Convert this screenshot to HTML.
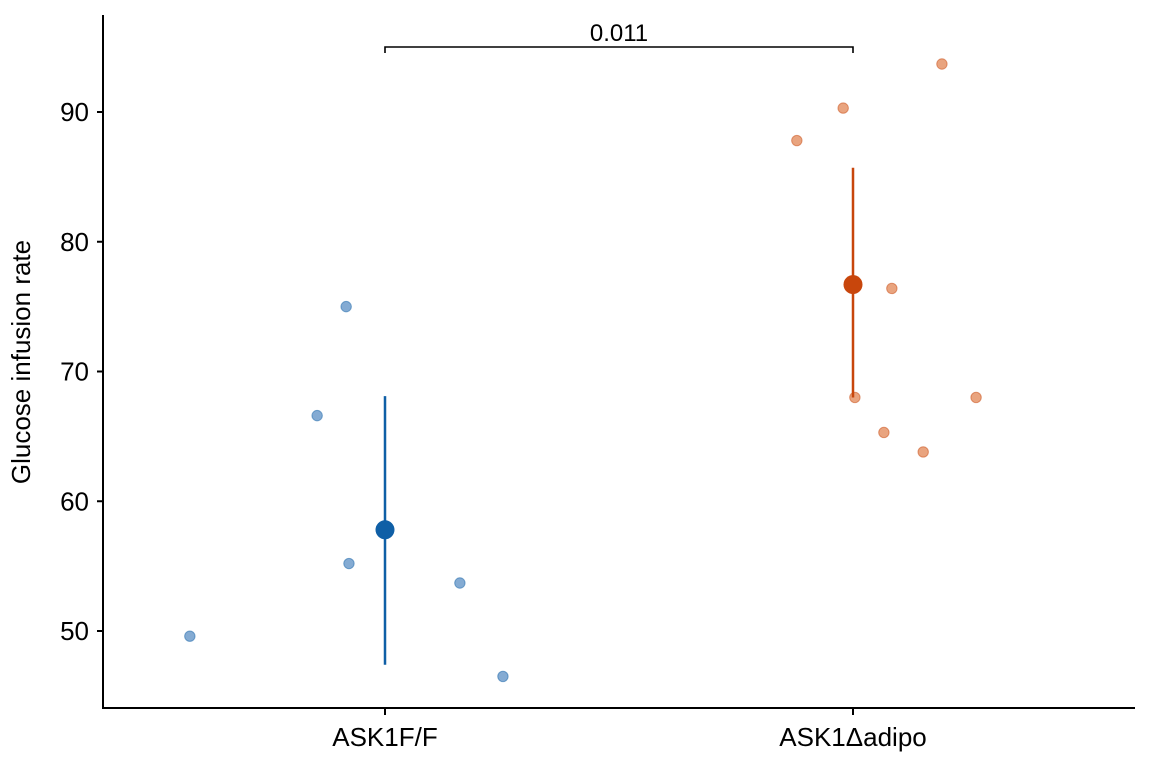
<!DOCTYPE html>
<html><head><meta charset="utf-8"><style>
body{margin:0;background:#fff;}
svg{display:block;font-family:"Liberation Sans","DejaVu Sans",sans-serif;}
</style></head><body>
<svg id="chart" width="1152" height="768"></svg>
<script>
const categories=["ASK1F/F","ASK1\u0394adipo"];
const colors=["#0f5fa6","#c8460c"];
const ptColors=["#6f9ccb","#e59468"];
const g1Values=[49.6,66.6,75.0,55.2,53.7,46.5];
const g1Jitter=[-0.417,-0.145,-0.083,-0.077,0.160,0.252];
const g2Values=[87.8,90.3,93.7,76.4,68.0,65.3,63.8,68.0];
const g2Jitter=[-0.12,-0.021,0.19,0.083,0.004,0.066,0.15,0.263];
const means=[57.8,76.7];
const lows=[47.4,68.0];
const highs=[68.1,85.7];
const yTicks=[50,60,70,80,90];
const pLabel="0.011";

const NS="http://www.w3.org/2000/svg";
const svg=document.getElementById('chart');
function yS(v){return 112+(90-v)*12.975;}
function xS(c){return 385+c*468;}
function mk(t,a,parent){const e=document.createElementNS(NS,t);for(const k in a)e.setAttribute(k,a[k]);(parent||svg).appendChild(e);return e;}

let e;
e=mk('line',{x1:103,y1:15,x2:103,y2:708,stroke:'#000','stroke-width':2});


e=mk('line',{x1:102,y1:708,x2:1135,y2:708,stroke:'#000','stroke-width':2});



yTicks.forEach(v=>{
  e=mk('line',{x1:97,y1:yS(v),x2:103,y2:yS(v),stroke:'#000','stroke-width':2});
  
  
  e=mk('text',{x:89,y:yS(v)+9,'text-anchor':'end','font-size':26});
  e.textContent=v;
  
  
});
categories.forEach((c,i)=>{
  e=mk('line',{x1:xS(i),y1:708,x2:xS(i),y2:715,stroke:'#000','stroke-width':2});
  
  
  e=mk('text',{x:xS(i),y:746,'text-anchor':'middle','font-size':26});
  e.textContent=c;
  
  
});
e=mk('text',{x:0,y:0,'text-anchor':'middle','font-size':26,transform:'translate(37,362) rotate(-90)'});
e.setAttribute('transform','translate(30,362) rotate(-90)');
e.textContent='Glucose infusion rate';



[[g1Values,g1Jitter],[g2Values,g2Jitter]].forEach(([vals,jit],gi)=>{
  vals.forEach((v,j)=>{
    e=mk('circle',{cx:xS(gi+jit[j]),cy:yS(v),r:5.2,fill:ptColors[gi],stroke:colors[gi],'stroke-opacity':0.5,'stroke-width':1,'fill-opacity':0.85});
    
    
  });
  e=mk('line',{x1:xS(gi),y1:yS(lows[gi]),x2:xS(gi),y2:yS(highs[gi]),stroke:colors[gi],'stroke-width':2.5});
  
  
  e=mk('circle',{cx:xS(gi),cy:yS(means[gi]),r:9.5,fill:colors[gi]});
  
  
});

e=mk('path',{d:`M${xS(0)},53 V47 H${xS(1)} V53`,fill:'none',stroke:'#000','stroke-width':1.6});


e=mk('text',{x:(xS(0)+xS(1))/2,y:41,'text-anchor':'middle','font-size':24});
e.textContent=pLabel;


</script>
</body></html>
